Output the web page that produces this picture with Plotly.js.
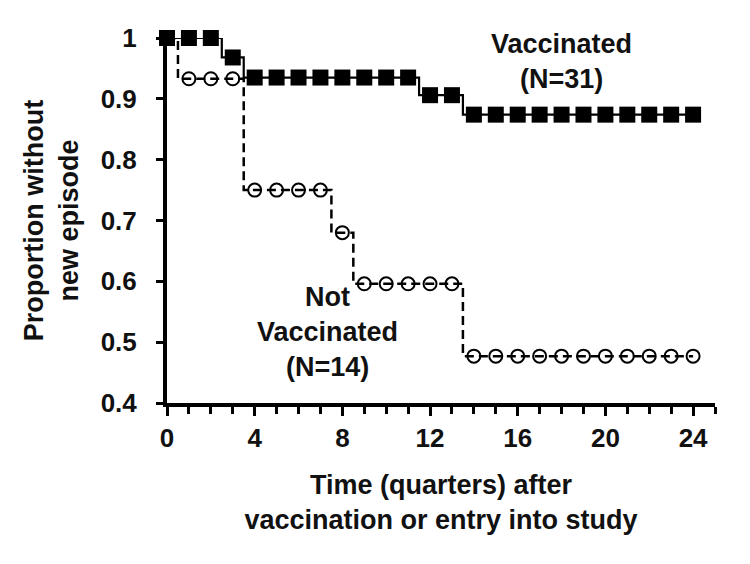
<!DOCTYPE html>
<html>
<head>
<meta charset="utf-8">
<script src="https://cdn.plot.ly/plotly-3.0.1.min.js"></script>
<style>
  html, body { margin: 0; padding: 0; background: #fff; }
  #chart { width: 750px; height: 564px; }
</style>
</head>
<body>
<div id="chart"></div>
<script>
// time in quarters
var quarters = [0, 1, 2, 3, 4, 5, 6, 7, 8, 9, 10, 11, 12, 13, 14, 15, 16, 17, 18, 19, 20, 21, 22, 23, 24];

// proportion without new episode
var vaccinated = [1, 1, 1, 0.968, 0.935, 0.935, 0.935, 0.935, 0.935, 0.935, 0.935, 0.935,
    0.906, 0.906, 0.874, 0.874, 0.874, 0.874, 0.874, 0.874, 0.874, 0.874, 0.874, 0.874, 0.874];
var notVaccinated = [1, 0.933, 0.933, 0.933, 0.75, 0.75, 0.75, 0.75, 0.68, 0.596, 0.596, 0.596,
    0.596, 0.596, 0.477, 0.477, 0.477, 0.477, 0.477, 0.477, 0.477, 0.477, 0.477, 0.477, 0.477];

var xTicks = [0, 4, 8, 12, 16, 20, 24];
var yTicks = [0.4, 0.5, 0.6, 0.7, 0.8, 0.9, 1];
var yTickText = ['0.4', '0.5', '0.6', '0.7', '0.8', '0.9', '1'];

var boldFont = {family: 'Liberation Sans, Arial, sans-serif', size: 26, color: '#111', weight: 700};
var titleFont = {family: 'Liberation Sans, Arial, sans-serif', size: 27, color: '#111', weight: 700};

var notVaccTrace = {
    x: quarters,
    y: notVaccinated,
    type: 'scatter',
    mode: 'lines+markers',
    line: {shape: 'hvh', color: '#000', width: 2.5, dash: '9px,5px'},
    marker: {symbol: 'circle-open', size: 13, color: '#000', line: {width: 2, color: '#000'}},
    cliponaxis: false,
    showlegend: false
};

var vaccTrace = {
    x: quarters,
    y: vaccinated,
    type: 'scatter',
    mode: 'lines+markers',
    line: {shape: 'hvh', color: '#000', width: 2.2},
    marker: {symbol: 'square', size: 16, color: '#000'},
    cliponaxis: false,
    showlegend: false
};

var layout = {
    width: 750,
    height: 564,
    margin: {l: 167, r: 35, t: 38, b: 161},
    paper_bgcolor: '#fff',
    plot_bgcolor: '#fff',
    font: boldFont,
    showlegend: false,
    xaxis: {
        range: [0, 25],
        tickvals: xTicks,
        ticks: 'outside',
        ticklen: 9,
        tickwidth: 3,
        tickcolor: '#000',
        minor: {dtick: 1, tick0: 0, ticks: 'outside', ticklen: 7, tickwidth: 3, tickcolor: '#000'},
        showline: true,
        linewidth: 4,
        linecolor: '#000',
        showgrid: false,
        zeroline: false,
        layer: 'below traces',
        tickfont: boldFont,
        title: {text: 'Time (quarters) after<br>vaccination or entry into study', font: titleFont, standoff: 24}
    },
    yaxis: {
        range: [0.4, 1],
        tickvals: yTicks,
        ticktext: yTickText,
        ticks: 'outside',
        ticklen: 7,
        tickwidth: 3,
        tickcolor: '#000',
        ticklabelstandoff: 14,
        showline: true,
        linewidth: 4,
        linecolor: '#000',
        showgrid: false,
        zeroline: false,
        layer: 'below traces',
        tickfont: boldFont,
        title: {text: 'Proportion without<br>new episode', font: titleFont, standoff: 15}
    },
    annotations: [
        {x: 18, y: 0.962, xref: 'x', yref: 'y', text: 'Vaccinated<br>(N=31)', showarrow: false, font: titleFont, align: 'center'},
        {x: 7.3, y: 0.516, xref: 'x', yref: 'y', text: 'Not<br>Vaccinated<br>(N=14)', showarrow: false, font: titleFont, align: 'center'}
    ]
};

Plotly.newPlot('chart', [notVaccTrace, vaccTrace], layout, {displayModeBar: false, staticPlot: true});
</script>
</body>
</html>
